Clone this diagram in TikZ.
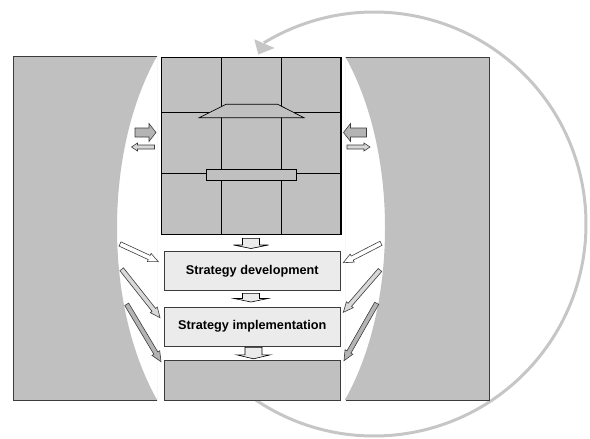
\documentclass[tikz,border=0pt]{standalone}
\usepackage{fontspec}
\setmainfont{Liberation Sans}
\usetikzlibrary{calc}
\definecolor{panel}{HTML}{C0C0C0}
\definecolor{ring}{HTML}{C6C6C6}
\definecolor{boxfill}{HTML}{EBEBEB}
\definecolor{edge}{HTML}{3C3C3C}
\definecolor{midgray}{HTML}{B4B4B4}
\definecolor{lightgray2}{HTML}{D8D8D8}
\newcommand\blkarrow[6]{%
  \coordinate (hb) at ($(#2)!#5!(#1)$);
  \draw[#6] ($(#1)!#3!90:(#2)$) -- ($(hb)!#3!90:(#2)$) -- ($(hb)!#4!90:(#2)$) -- (#2)
    -- ($(hb)!#4!-90:(#2)$) -- ($(hb)!#3!-90:(#2)$) -- ($(#1)!#3!-90:(#2)$) -- cycle;}
\tikzset{
  paneledge/.style={draw=edge, line width=0.9pt},
  gridbox/.style={draw=black, line width=1.2pt, fill=panel, minimum width=179.3pt, minimum height=177pt, inner sep=0pt},
  gridline/.style={draw=black, line width=0.7pt},
  textbox/.style={draw=edge, line width=0.8pt, fill=boxfill, minimum width=176.7pt, minimum height=39pt, inner sep=0pt, font=\bfseries\fontsize{12.7}{15}\selectfont},
  downarrow/.style={draw=black, line width=0.6pt, fill=boxfill},
  bigside/.style={draw=edge, line width=0.6pt, fill=midgray},
  smallside/.style={draw=edge, line width=0.6pt, fill=lightgray2},
  diagA/.style={draw=edge, line width=0.6pt, fill=white},
  diagB/.style={draw=edge, line width=0.6pt, fill=lightgray2},
  diagC/.style={draw=edge, line width=0.6pt, fill=midgray},
  ringline/.style={draw=ring, line width=3pt},
}
\begin{document}
\begin{tikzpicture}[x=1pt,y=-1pt]
\useasboundingbox (0,0) rectangle (590,439);
% cycle arc (behind everything)
\coordinate (ringc) at (374,224);
\draw[ringline] (ringc) ++(130:212) arc[start angle=130, end angle=-121.3, radius=212];
\fill[ring] (254.3,39.3) -- (258.3,54.5) -- (274.5,48) -- cycle;
% left panel
\begin{scope}
  \clip (13,56) rectangle (157.5,400);
  \fill[panel, even odd rule] (13,56) rectangle (157.5,400) (251,228) ellipse [x radius=134, y radius=241];
\end{scope}
\draw[paneledge] (157,56) -- (13,56) -- (13,400) -- (157,400);
% right panel
\begin{scope}
  \clip (345,57) rectangle (489,400);
  \fill[panel, even odd rule] (345,57) rectangle (489,400) (251,228) ellipse [x radius=134, y radius=241];
\end{scope}
\draw[paneledge] (345.5,57) -- (489,57) -- (489,400) -- (345.5,400);
% grid box
\node[gridbox] (grid) at (251.3,145.8) {};
\draw[gridline] (221.7,57.3) -- (221.7,234.3);
\draw[gridline] (281.7,57.3) -- (281.7,234.3);
\draw[gridline] (161.7,112.7) -- (341,112.7);
\draw[gridline] (161.7,173.3) -- (341,173.3);
\filldraw[fill=panel, draw=black, line width=0.7pt] (226,104.3) -- (277.7,104.3) -- (304,117.7) -- (199.3,117.7) -- cycle;
\node[draw=black, line width=0.7pt, fill=panel, minimum width=89.3pt, minimum height=11.4pt, inner sep=0pt] (bar) at (251.3,175) {};
% boxes
\node[textbox] (dev) at (252.3,271.2) {Strategy development};
\node[textbox, minimum height=38.7pt] (impl) at (252.3,326.7) {Strategy implementation};
\node[textbox, fill=panel, minimum height=39.3pt] (res) at (252.3,380.3) {};
% down arrows
\coordinate (d1s) at (251,238.3); \coordinate (d1e) at (251,248.5);
\coordinate (d2s) at (251,293.3); \coordinate (d2e) at (251,302);
\coordinate (d3s) at (253.5,347.3); \coordinate (d3e) at (253.5,358.8);
\blkarrow{d1s}{d1e}{8.5pt}{17.5pt}{3.5pt}{downarrow}
\blkarrow{d2s}{d2e}{8.5pt}{17pt}{3.5pt}{downarrow}
\blkarrow{d3s}{d3e}{8.5pt}{17pt}{4pt}{downarrow}
% side arrows
\coordinate (lb1) at (135,132.5); \coordinate (lb2) at (156,132.5);
\coordinate (ls1) at (154.5,147); \coordinate (ls2) at (131.5,147);
\coordinate (rb1) at (366.5,132.5); \coordinate (rb2) at (343.5,132.5);
\coordinate (rs1) at (347,147); \coordinate (rs2) at (370,147);
\blkarrow{lb1}{lb2}{4.5pt}{9pt}{7pt}{bigside}
\blkarrow{ls1}{ls2}{2pt}{4pt}{6pt}{smallside}
\blkarrow{rb1}{rb2}{4.5pt}{9pt}{7pt}{bigside}
\blkarrow{rs1}{rs2}{2pt}{4pt}{6pt}{smallside}
% diagonal arrows
\coordinate (l1s) at (120,244);   \coordinate (l1e) at (158.3,261.7);
\coordinate (l2s) at (121.7,269.3); \coordinate (l2e) at (160,317.7);
\coordinate (l3s) at (126.7,304.3); \coordinate (l3e) at (161,361.7);
\coordinate (r1s) at (381,243.3); \coordinate (r1e) at (343.3,262.7);
\coordinate (r2s) at (380,270);   \coordinate (r2e) at (343.3,312.3);
\coordinate (r3s) at (376.7,303.3); \coordinate (r3e) at (344,360.7);
\blkarrow{l1s}{l1e}{2.3pt}{4.5pt}{10pt}{diagA}
\blkarrow{l2s}{l2e}{2.3pt}{4.5pt}{10pt}{diagB}
\blkarrow{l3s}{l3e}{2.3pt}{4.5pt}{10pt}{diagC}
\blkarrow{r1s}{r1e}{2.3pt}{4.5pt}{10pt}{diagA}
\blkarrow{r2s}{r2e}{2.3pt}{4.5pt}{10pt}{diagB}
\blkarrow{r3s}{r3e}{2.3pt}{4.5pt}{10pt}{diagC}
\end{tikzpicture}
\end{document}
